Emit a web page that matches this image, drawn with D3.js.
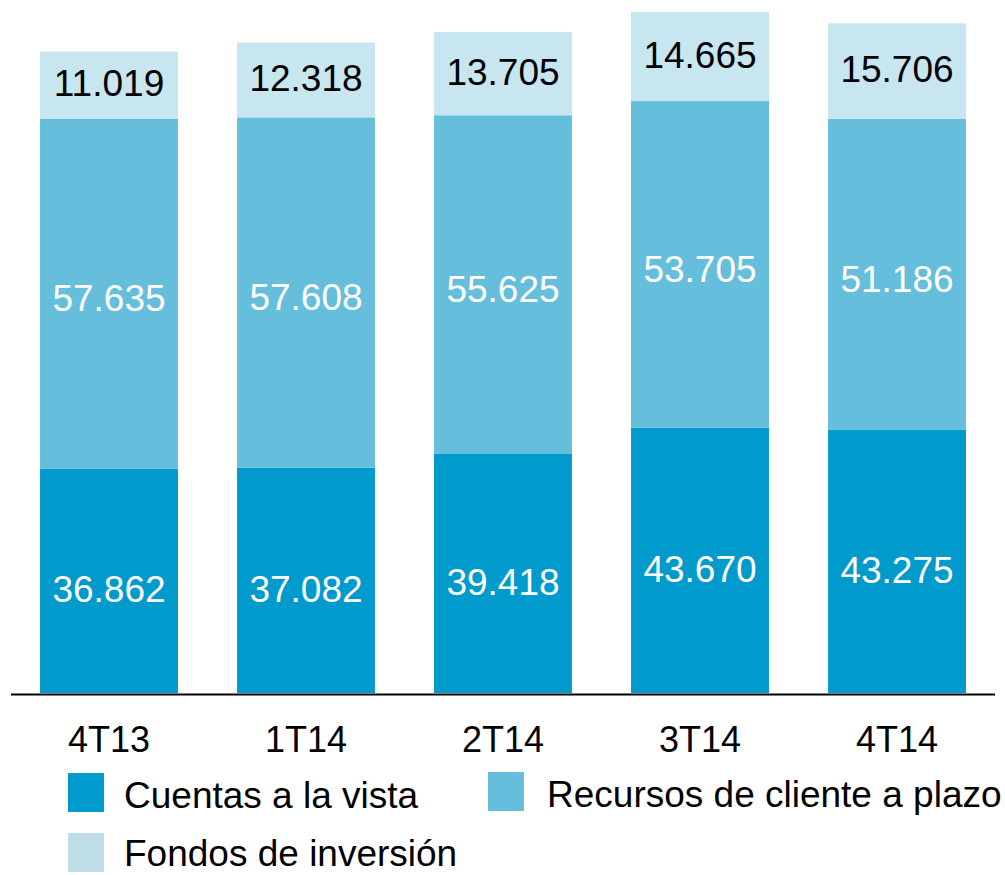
<!DOCTYPE html>
<html>
<head>
<meta charset="utf-8">
<script src="https://cdn.jsdelivr.net/npm/d3@7"></script>
<style>
  body { margin: 0; background: #fff; }
  svg { display: block; font-family: "Liberation Sans", Arial, sans-serif; }
</style>
</head>
<body>
<div id="chart"></div>
<script>
// data
var quarters = ["4T13", "1T14", "2T14", "3T14", "4T14"];
var cuentas  = [36862, 37082, 39418, 43670, 43275];
var recursos = [57635, 57608, 55625, 53705, 51186];
var fondos   = [11019, 12318, 13705, 14665, 15706];
var seriesNames = ["Cuentas a la vista", "Recursos de cliente a plazo", "Fondos de inversión"];

var width = 1005, height = 875;
var baseY = 693;

var colors = ["#009acc", "#66bedd", "#c8e6f0"];
var legendColors = ["#009acc", "#66bedd", "#bedde6"];
var textColors = ["#ffffff", "#ffffff", "#000000"];
var labelShift = [8, 4, -2];

var rows = quarters.map(function(q, i) {
  return {q: q, c: cuentas[i], r: recursos[i], f: fondos[i]};
});
var stack = d3.stack().keys(["c", "r", "f"])(rows);

var svg = d3.select("#chart").append("svg")
  .attr("width", width)
  .attr("height", height);

var x = d3.scaleBand()
  .domain(quarters)
  .range([10.5, 995.5])
  .paddingInner(0.3)
  .paddingOuter(0.15);

var y = d3.scaleLinear()
  .domain([0, 114000])
  .range([baseY, 0]);

var layer = svg.selectAll("g.layer")
  .data(stack)
  .enter().append("g")
  .attr("class", "layer")
  .attr("fill", function(d, i) { return colors[i]; });

layer.selectAll("rect")
  .data(function(d) { return d; })
  .enter().append("rect")
  .attr("x", function(d) { return x(d.data.q); })
  .attr("y", function(d) { return y(d[1]); })
  .attr("width", x.bandwidth())
  .attr("height", function(d) { return y(d[0]) - y(d[1]); });

var fmt = function(v) { return d3.format(",")(v).replace(/,/g, "."); };

stack.forEach(function(s, si) {
  svg.append("g").selectAll("text")
    .data(s)
    .enter().append("text")
    .attr("x", function(d) { return x(d.data.q) + x.bandwidth() / 2; })
    .attr("y", function(d) { return (y(d[0]) + y(d[1])) / 2 + labelShift[si]; })
    .attr("dy", "0.36em")
    .attr("text-anchor", "middle")
    .attr("font-size", 37)
    .attr("fill", textColors[si])
    .text(function(d) { return fmt(d[1] - d[0]); });
});

// baseline
svg.append("line")
  .attr("x1", 11).attr("x2", 995)
  .attr("y1", 694.5).attr("y2", 694.5)
  .attr("stroke", "#000")
  .attr("stroke-width", 2);

// x axis labels
var xAxis = svg.append("g")
  .attr("transform", "translate(0," + 694 + ")")
  .call(d3.axisBottom(x).tickSize(0).tickPadding(0));
xAxis.select(".domain").remove();
xAxis.selectAll("text")
  .attr("font-family", "Liberation Sans, Arial, sans-serif")
  .attr("font-size", 36)
  .attr("fill", "#000")
  .attr("dy", null)
  .attr("y", 58);

// legend
var legendPos = [{x: 68, y: 773}, {x: 488, y: 772}, {x: 68, y: 833}];
var legend = svg.append("g").selectAll("g")
  .data(seriesNames)
  .enter().append("g")
  .attr("transform", function(d, i) { return "translate(" + legendPos[i].x + "," + legendPos[i].y + ")"; });

legend.append("rect")
  .attr("width", 36)
  .attr("height", 39)
  .attr("fill", function(d, i) { return legendColors[i]; });

legend.append("text")
  .attr("x", function(d, i) { return i === 1 ? 59 : 56; })
  .attr("y", function(d, i) { return i === 2 ? 33 : 35; })
  .attr("font-size", 37)
  .attr("fill", "#000")
  .text(function(d) { return d; });
</script>
</body>
</html>
